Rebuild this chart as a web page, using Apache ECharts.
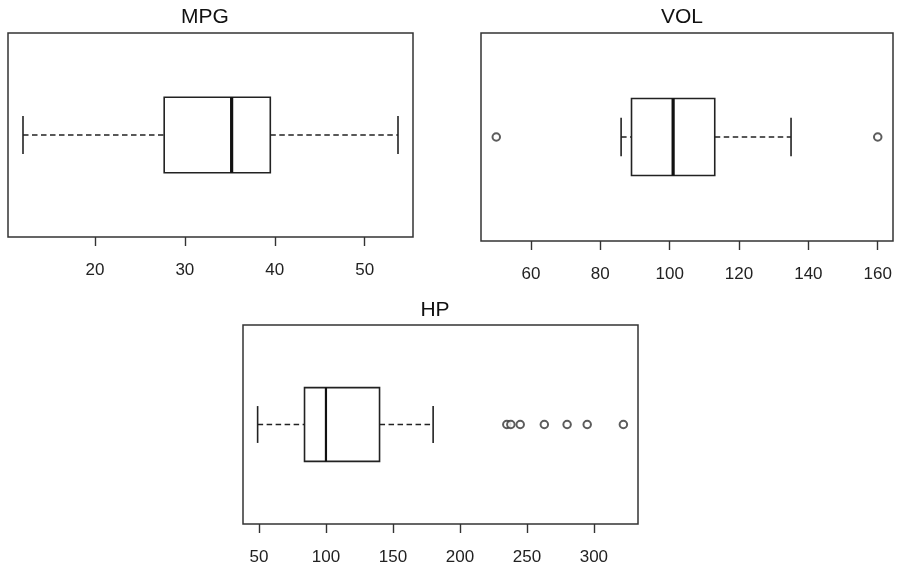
<!DOCTYPE html>
<html>
<head>
<meta charset="utf-8">
<script src="https://cdn.jsdelivr.net/npm/echarts@6/dist/echarts.min.js"></script>
<style>
html,body{margin:0;padding:0;background:#fff;}
#chart{width:897px;height:568px;}
</style>
</head>
<body>
<div id="chart"></div>
<script>
// ---- data ----
const panelTitles = ['MPG', 'VOL', 'HP'];
// five-number summaries: [lower whisker, Q1, median, Q3, upper whisker]
const mpgStats = [12, 27.7, 35.2, 39.5, 53.7];
const volStats = [86, 89, 101, 113, 135];
const hpStats = [49, 84, 100, 140, 180];
const mpgOutliers = [];
const volOutliers = [50, 160];
const hpOutliers = [235, 238, 245, 263, 280, 295, 322];
const mpgTicks = [20, 30, 40, 50];
const volTicks = [60, 80, 100, 120, 140, 160];
const hpTicks = [50, 100, 150, 200, 250, 300];

// ---- chart ----
const FONT = "'Liberation Sans', Arial, sans-serif";
const INK = '#222';

function rExtent(lo, hi) {
  const d = (hi - lo) * 0.04;
  return [lo - d, hi + d];
}
const mpgExt = rExtent(Math.min(mpgStats[0], ...mpgOutliers), Math.max(mpgStats[4], ...mpgOutliers));
const volExt = rExtent(Math.min(volStats[0], ...volOutliers), Math.max(volStats[4], ...volOutliers));
const hpExt = rExtent(Math.min(hpStats[0], ...hpOutliers), Math.max(hpStats[4], ...hpOutliers));

const grids = [
  {left: 8, top: 33, width: 405, height: 204},
  {left: 481, top: 33, width: 412, height: 208},
  {left: 243, top: 325, width: 395, height: 199}
].map(g => Object.assign(g, {show: true, borderColor: '#333', borderWidth: 1.5, backgroundColor: '#fff'}));

function xAxis(idx, ext, ticks) {
  return {
    gridIndex: idx, type: 'value', min: ext[0], max: ext[1],
    splitLine: {show: false},
    axisLine: {show: false},
    axisTick: {show: true, customValues: ticks, length: 9, lineStyle: {color: '#333', width: 1.4}},
    axisLabel: {show: true, customValues: ticks, fontSize: 17, color: INK, fontFamily: FONT, margin: 25,
      formatter: v => String(v)}
  };
}
function yAxis(idx) {
  return {gridIndex: idx, type: 'value', min: 0.46, max: 1.54, show: false};
}

function makeRenderBox(medianWidth) {
  return function (params, api) {
    const y = api.value(0);
    const pMin = api.coord([api.value(1), y]);
    const pQ1 = api.coord([api.value(2), y]);
    const pMed = api.coord([api.value(3), y]);
    const pQ3 = api.coord([api.value(4), y]);
    const pMax = api.coord([api.value(5), y]);
    const half = api.size([0, 0.2])[1];
    const cap = api.size([0, 0.1])[1];
    const cy = pMed[1];
    const solid = {stroke: INK, lineWidth: 1.6, fill: null};
    const dashed = {stroke: INK, lineWidth: 1.6, lineDash: [5.5, 3.5], fill: null};
    return {
      type: 'group',
      children: [
        {type: 'line', shape: {x1: pMin[0], y1: cy, x2: pQ1[0], y2: cy}, style: dashed},
        {type: 'line', shape: {x1: pQ3[0], y1: cy, x2: pMax[0], y2: cy}, style: dashed},
        {type: 'line', shape: {x1: pMin[0], y1: cy - cap, x2: pMin[0], y2: cy + cap}, style: solid},
        {type: 'line', shape: {x1: pMax[0], y1: cy - cap, x2: pMax[0], y2: cy + cap}, style: solid},
        {type: 'rect', shape: {x: pQ1[0], y: cy - half, width: pQ3[0] - pQ1[0], height: 2 * half},
          style: {stroke: INK, lineWidth: 1.6, fill: '#fff'}},
        {type: 'line', shape: {x1: pMed[0], y1: cy - half, x2: pMed[0], y2: cy + half},
          style: {stroke: '#111', lineWidth: medianWidth}}
      ]
    };
  };
}

function boxSeries(idx, stats, medianWidth) {
  return {
    type: 'custom', xAxisIndex: idx, yAxisIndex: idx,
    renderItem: makeRenderBox(medianWidth),
    encode: {y: 0, x: [1, 2, 3, 4, 5]},
    data: [[1].concat(stats)],
    z: 2
  };
}
function outlierSeries(idx, vals) {
  return {
    type: 'scatter', xAxisIndex: idx, yAxisIndex: idx,
    symbol: 'emptyCircle', symbolSize: 7.5,
    itemStyle: {color: '#333', borderColor: '#333', borderWidth: 1.3},
    data: vals.map(v => [v, 1]),
    z: 3, silent: true
  };
}

const titleCenters = [[205, 7], [682, 7], [435, 300]];
const option = {
  backgroundColor: '#fff',
  animation: false,
  title: panelTitles.map((t, i) => ({
    text: t, left: titleCenters[i][0], top: titleCenters[i][1], textAlign: 'center',
    padding: 0,
    textStyle: {fontSize: 21, fontWeight: 'normal', color: '#111', fontFamily: FONT}
  })),
  grid: grids,
  xAxis: [xAxis(0, mpgExt, mpgTicks), xAxis(1, volExt, volTicks), xAxis(2, hpExt, hpTicks)],
  yAxis: [yAxis(0), yAxis(1), yAxis(2)],
  series: [
    boxSeries(0, mpgStats, 3.2), outlierSeries(0, mpgOutliers),
    boxSeries(1, volStats, 3.2), outlierSeries(1, volOutliers),
    boxSeries(2, hpStats, 2.2), outlierSeries(2, hpOutliers)
  ]
};
const chart = echarts.init(document.getElementById('chart'), null, {renderer: 'canvas'});
chart.setOption(option);
</script>
</body>
</html>
